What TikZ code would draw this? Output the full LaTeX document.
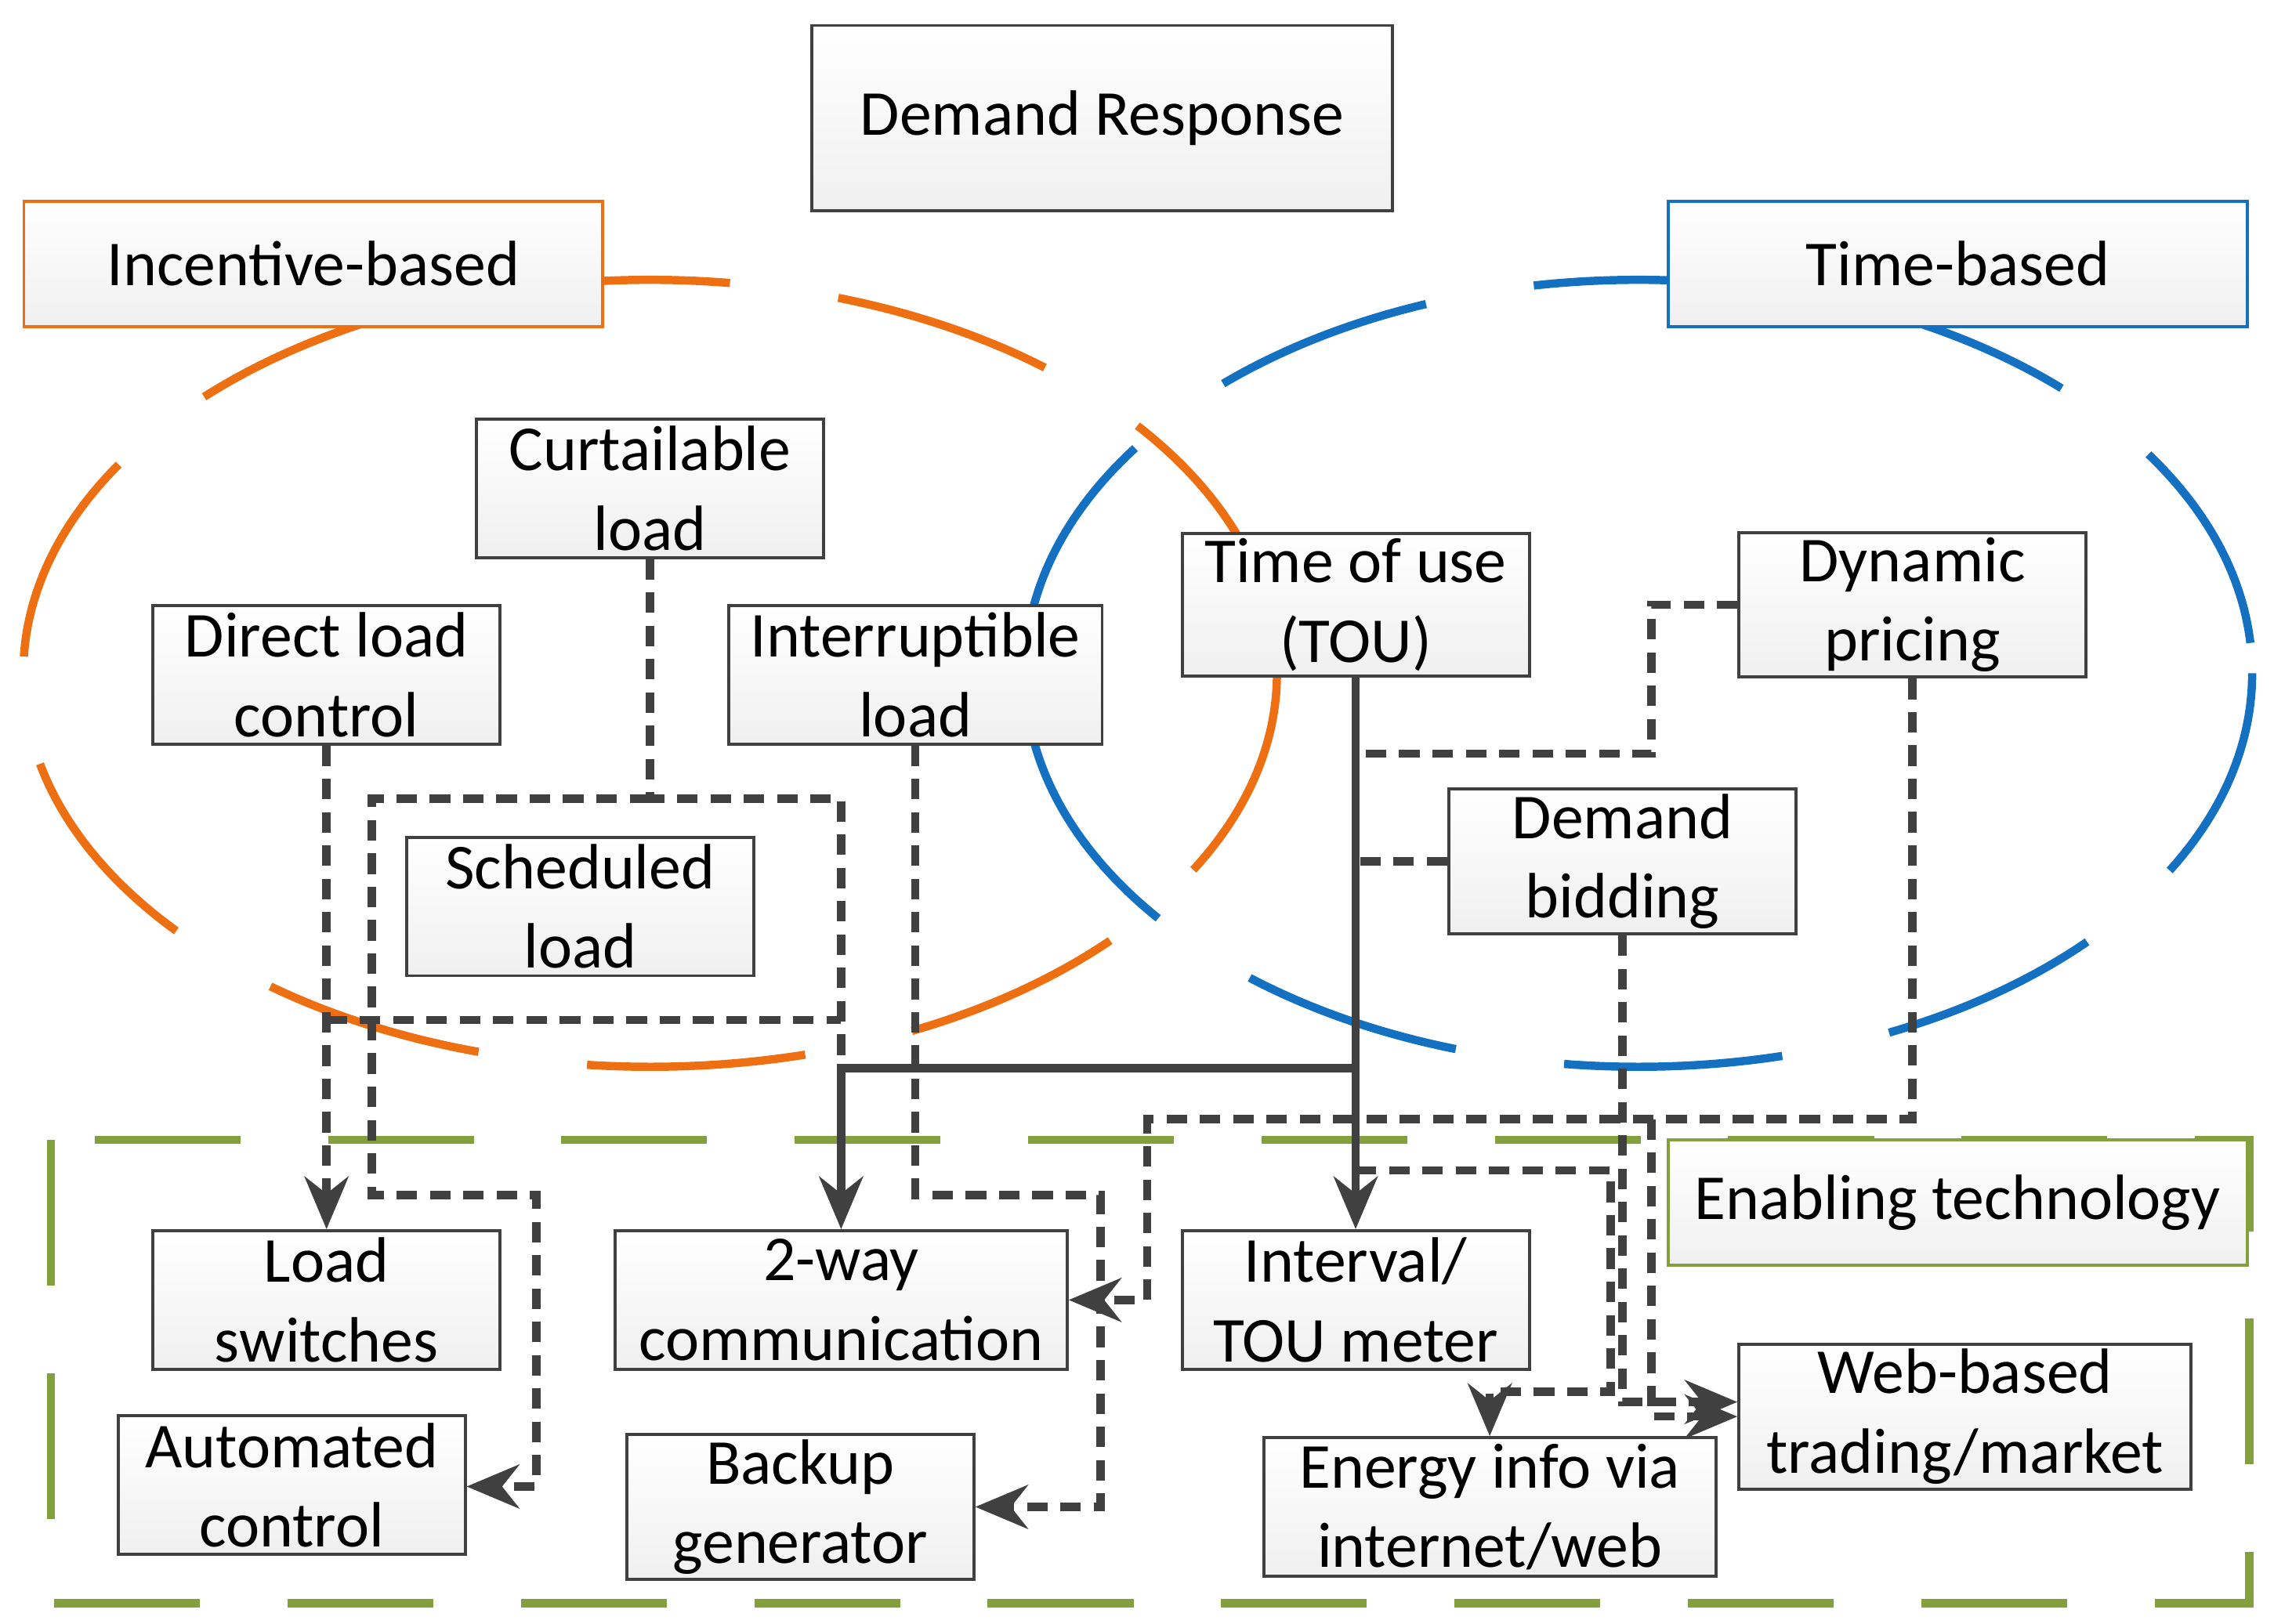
\documentclass[tikz,border=0pt]{standalone}
\usepackage{fontspec}
\setmainfont{Carlito}
\usetikzlibrary{arrows.meta, positioning, calc}
\definecolor{drorange}{RGB}{237,111,18}
\definecolor{drblue}{RGB}{20,112,192}
\definecolor{drgreen}{RGB}{130,160,60}
\definecolor{drline}{RGB}{64,64,64}
\tikzset{
  box/.style={rectangle, draw=drline, line width=0.6pt, top color=white, bottom color=gray!12, minimum width=2.38cm, minimum height=0.95cm, align=center, inner sep=1pt, font=\fontsize{12.5}{15.5}\selectfont},
  group/.style={box, minimum width=3.97cm, minimum height=0.86cm},
  ring/.style={line width=1.6pt, dash pattern=on 1.5cm off 0.75cm},
  link/.style={draw=drline, line width=1.6pt, dash pattern=on 4pt off 2.5pt},
  solidlink/.style={draw=drline, line width=1.6pt},
  tip/.style={-{Stealth[length=0.36cm,width=0.3cm]}}
}
\begin{document}
\begin{tikzpicture}[x=0.01cm,y=-0.01cm]
\useasboundingbox (0,0) rectangle (1560,1114);
% groups
\draw[ring, drorange] (446,462) ellipse [x radius=430, y radius=270];
\draw[ring, drblue] (1124,462) ellipse [x radius=421, y radius=270];
\draw[ring, drgreen, dash pattern=on 1cm off 0.6cm] (35,782) rectangle (1543,1100);
\node (dr) [box, minimum width=3.98cm, minimum height=1.27cm] at (756,81) {Demand Response};
\node (incentive) [group, draw=drorange] at (215,181) {Incentive-based};
\node (timebased) [group, draw=drblue] at (1343,181) {Time-based};
\node (enabling) [group, draw=drgreen] at (1343,825) {Enabling technology};
% programs
\node (curtail) [box] at (446,335) {Curtailable\\load};
\node (direct) [box] at (224,463) {Direct load\\control};
\node (interrupt) [box, minimum width=2.56cm] at (628,463) {Interruptible\\load};
\node (sched) [box] at (398,622) {Scheduled\\load};
\node (tou) [box] at (930,415) {Time of use\\(TOU)};
\node (dynamic) [box] at (1312,415) {Dynamic\\pricing};
\node (bidding) [box] at (1113,591) {Demand\\bidding};
% technology
\node (switches) [box] at (224,892) {Load\\switches};
\node (twoway) [box, minimum width=3.1cm] at (577,892) {2-way\\communication};
\node (meter) [box] at (930,892) {Interval/\\TOU meter};
\node (automated) [box] at (200,1019) {Automated\\control};
\node (backup) [box] at (549,1034) {Backup\\generator};
\node (energy) [box, minimum width=3.1cm] at (1022,1034) {Energy info via\\internet/web};
\node (web) [box, minimum width=3.1cm] at (1348,972) {Web-based\\trading/market};
% connectors
\draw[link, tip] (direct) -- (switches);
\draw[link] (224,700) -- (577,700);
\draw[link] (curtail) -- (446,548) -- (577,548) -- (577,733);
\draw[link, tip] (446,548) -- (255,548) -- (255,820) -- (368,820) -- (368,1020) -- (automated.east |- 0,1020);
\draw[link, tip] (interrupt) -- (628,820) -- (755,820) -- (755,1034) -- (backup.east);
\draw[solidlink, tip] (tou) -- (meter);
\draw[solidlink, tip] (930,733) -- (577,733) -- (twoway);
\draw[link] (dynamic.west) -- (1133,415) -- (1133,517) -- (930,517);
\draw[link] (bidding.west) -- (930,591);
\draw[link, tip] (dynamic) -- (1312,768) -- (787,768) -- (787,892) -- (twoway.east);
\draw[link, tip] (930,803) -- (1105,803) -- (1105,955) -- (1022,955) -- (energy.north);
\draw[link, tip] (bidding) -- (1113,962) -- (web.west |- 0,962);
\draw[link, tip] (1133,768) -- (1133,972) -- (web.west);
\end{tikzpicture}
\end{document}
